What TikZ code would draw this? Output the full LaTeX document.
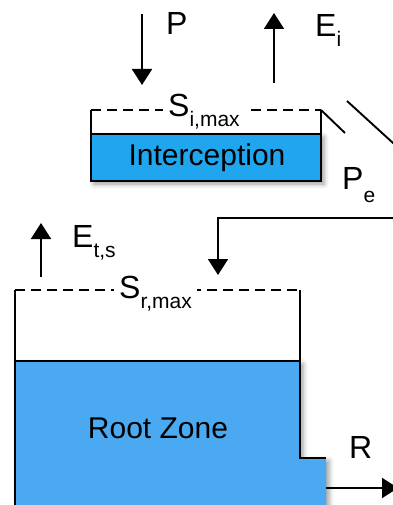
\documentclass[tikz,border=0pt]{standalone}
\usepackage{fontspec}
\setmainfont{Liberation Sans}
\usetikzlibrary{arrows.meta,shadows.blur}
\definecolor{icol}{HTML}{1FA6EE}
\definecolor{rcol}{HTML}{4BA9F2}
\newcommand{\subtx}[3][10pt]{#2\raisebox{-#1}{\fontsize{21}{21}\selectfont #3}}
\begin{document}
\begin{tikzpicture}[x=1pt,y=-1pt,
  wall/.style={line width=1.9pt, black, line join=miter},
  flow/.style={line width=1.9pt, black, line join=miter, -{Triangle[width=20pt,length=16pt]}},
  dashline/.style={line width=1.9pt, black, dash pattern=on 10pt off 6pt},
  lbl/.style={font=\fontsize{32}{32}\selectfont, inner sep=0pt, anchor=base west},
  boxtext/.style={font=\fontsize{30}{30}\selectfont, inner sep=0pt},
  shade/.style={blur shadow={shadow xshift=3pt, shadow yshift=-3pt, shadow blur radius=5pt, shadow opacity=40}}]
\useasboundingbox (0,0) rectangle (392,505);

% ---------- Interception store ----------
\fill[icol, shade] (91,134) rectangle (321,181);
\draw[wall] (91,110) -- (91,181) -- (321,181) -- (321,110);
\draw[wall] (91,134) -- (321,134);
\draw[dashline] (91,110) -- (321,110);
\node[boxtext] (intc) at (207,158) {Interception};
\node[lbl, fill=white, inner xsep=5pt] (simax) at (163,117) {\subtx{S}{i,max}};

% P and E_i
\coordinate (ptop) at (142,14);
\coordinate (pend) at (142,85);
\draw[flow] (ptop) -- (pend);
\node[lbl] (plbl) at (166,35) {P};
\coordinate (eibase) at (274,83);
\coordinate (eitop) at (274,13);
\draw[flow] (eibase) -- (eitop);
\node[lbl] (eilbl) at (315,37) {\subtx{E}{i}};

% overflow lines
\coordinate (ovA) at (321,110);
\coordinate (ovB) at (345,133);
\draw[wall] (ovA) -- (ovB);
\coordinate (ovC) at (347,101);
\coordinate (ovD) at (404,153);
\draw[wall] (ovC) -- (ovD);
\node[lbl] (pelbl) at (342,189) {\subtx[13pt]{P}{e}};

% Pe into root zone
\coordinate (pein) at (400,218);
\coordinate (petip) at (218,275);
\draw[flow] (pein) -| (petip);

% ---------- Root zone ----------
\fill[rcol, shade] (15,361) -- (300,361) -- (300,458) -- (326,458) -- (326,512) -- (15,512) -- cycle;
\draw[wall] (15,290) -- (15,512);
\draw[wall] (300,290) -- (300,458) -- (326,458);
\draw[wall] (15,361) -- (300,361);
\draw[dashline] (15,290) -- (300,290);
\node[lbl, fill=white, inner xsep=5pt] (srmax) at (114,298) {\subtx{S}{r,max}};
\node[boxtext] (root) at (158,428) {Root Zone};

% E_ts
\coordinate (etsbase) at (41,277);
\coordinate (etstop) at (41,223);
\draw[flow] (etsbase) -- (etstop);
\node[lbl] (etslbl) at (72,247) {\subtx{E}{t,s}};

% R
\coordinate (rstart) at (326,488);
\coordinate (rend) at (398,488);
\draw[flow] (rstart) -- (rend);
\node[lbl] (rlbl) at (349,458) {R};
\end{tikzpicture}
\end{document}
